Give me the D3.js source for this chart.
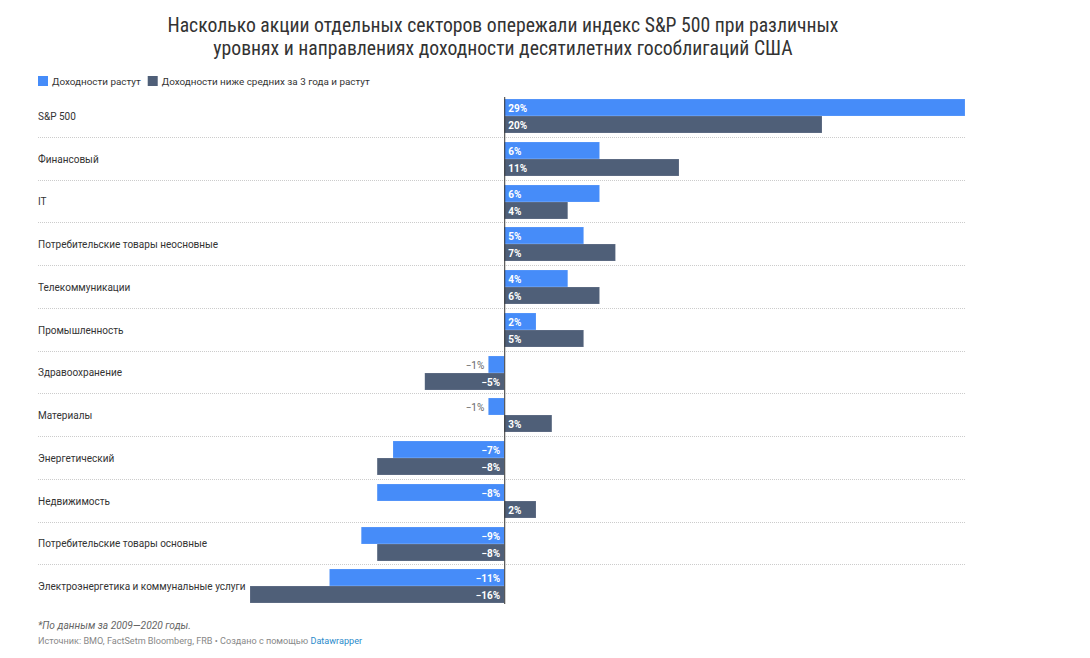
<!DOCTYPE html>
<html><head><meta charset="utf-8">
<script src="https://cdn.jsdelivr.net/npm/d3@7"></script>
<style>
body{margin:0;background:#fff;font-family:Roboto,"Noto Sans",sans-serif;}
</style></head>
<body><svg id="c" width="1090" height="658"></svg>
<script>
const categories = ["S&P 500","Финансовый","IT","Потребительские товары неосновные","Телекоммуникации","Промышленность","Здравоохранение","Материалы","Энергетический","Недвижимость","Потребительские товары основные","Электроэнергетика и коммунальные услуги"];
const seriesNames = ["Доходности растут","Доходности ниже средних за 3 года и растут"];
const risingValues = [29,6,6,5,4,2,-1,-1,-7,-8,-9,-11];
const belowAvgValues = [20,11,4,7,6,5,-5,3,-8,2,-8,-16];
const colors = ["#468cf9","#4f5f78"];

const svg = d3.select("#c");
const left = 38, right = 965;
const x = d3.scaleLinear().domain([-16,29]).range([250,965]);
const y = d3.scaleBand().domain(categories).range([95, 95 + 12*42.75]).paddingInner(0).paddingOuter(0);

// title
const title = svg.append("text").attr("x",502).attr("text-anchor","middle")
  .attr("font-family","'Roboto Condensed',Roboto,sans-serif").attr("font-size",19.7).attr("fill","#333");
title.append("tspan").attr("x",503).attr("y",32).text("Насколько акции отдельных секторов опережали индекс S&P 500 при различных");
title.append("tspan").attr("x",503).attr("y",55).text("уровнях и направлениях доходности десятилетних гособлигаций США");

// legend
const lg = svg.append("g").attr("font-size",9.9).attr("fill","#333");
let lx = left;
seriesNames.forEach((n,i)=>{
  lg.append("rect").attr("x",lx).attr("y",76).attr("width",10).attr("height",10).attr("fill",colors[i]);
  const t = lg.append("text").attr("x",lx+14).attr("y",85).text(n).attr("fill","#333");
  lx += 14 + t.node().getComputedTextLength() + 7;
});

// separators
categories.forEach((c,i)=>{
  if(i>0){
    const yy = Math.round(y(c)) - 0.5;
    svg.append("line").attr("x1",left).attr("x2",right).attr("y1",yy).attr("y2",yy)
      .attr("stroke","#ccc").attr("stroke-dasharray","1,1");
  }
});

const bh = 17;
const g = svg.append("g");
[risingValues,belowAvgValues].forEach((vals,s)=>{
  vals.forEach((v,i)=>{
    const y0 = Math.round(y(categories[i]) + 4 + s*bh);
    const x0 = x(Math.min(0,v)), x1 = x(Math.max(0,v));
    g.append("rect").attr("x",x0).attr("y",y0).attr("width",x1-x0).attr("height",bh)
      .attr("fill",colors[s]).attr("stroke","#fff").attr("stroke-opacity",0.3).attr("stroke-width",0.5);
    const lbl = (v<0?"−":"")+Math.abs(v)+"%";
    const t = g.append("text").attr("y",y0+12.5).attr("font-size",10).attr("font-weight","bold").text(lbl);
    if(v>=0){
      t.attr("x",x(0)+4).attr("fill","#fff");
    } else if (x1-x0 < 30){
      t.attr("x",x0-4).attr("text-anchor","end").attr("fill","#666").attr("font-weight","normal");
    } else {
      t.attr("x",x(0)-4).attr("text-anchor","end").attr("fill","#fff");
    }
  });
});

// category labels
categories.forEach(c=>{
  svg.append("text").attr("x",left).attr("y",y(c)+y.bandwidth()/2 + 3.5)
    .attr("font-size",10).attr("fill","#333").text(c);
});

// zero line
svg.append("line").attr("x1",x(0)+0.5).attr("x2",x(0)+0.5).attr("y1",97).attr("y2",604)
  .attr("stroke","#333").attr("stroke-width",1);

// footer
svg.append("text").attr("x",left).attr("y",629).attr("font-size",10.2).attr("font-style","italic")
  .attr("fill","#666").text("*По данным за 2009—2020 годы.");
const f = svg.append("text").attr("x",left).attr("y",644).attr("font-size",9.1).attr("fill","#888");
f.append("tspan").text("Источник: BMO, FactSetm Bloomberg, FRB • Создано с помощью ");
f.append("tspan").attr("fill","#2a8bcb").text("Datawrapper");
</script></body></html>
